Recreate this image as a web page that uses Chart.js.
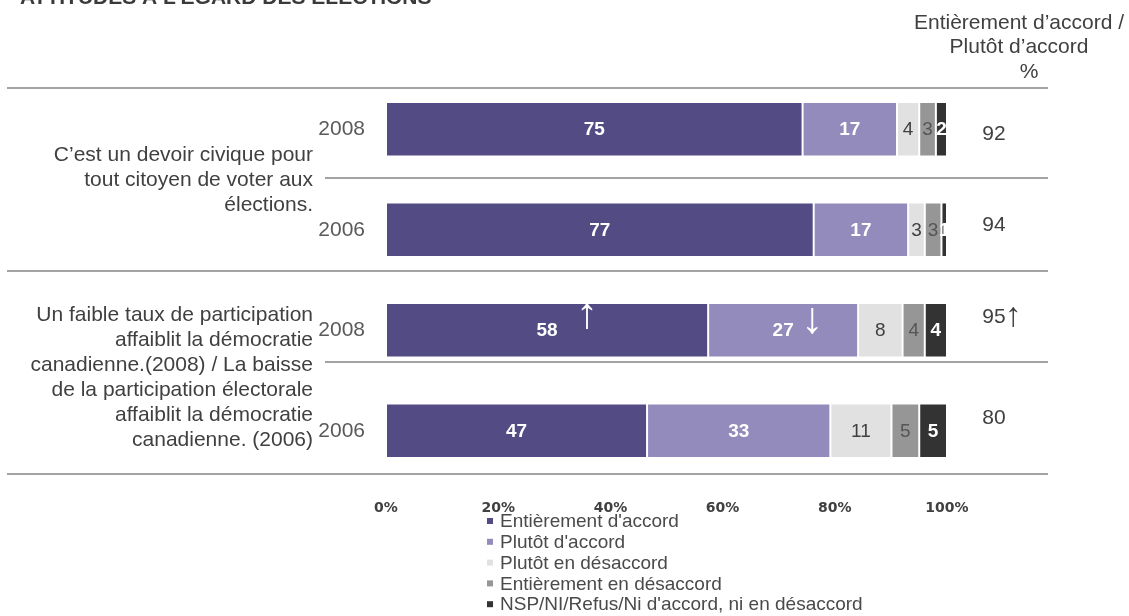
<!DOCTYPE html>
<html>
<head>
<meta charset="utf-8">
<script src="https://cdn.jsdelivr.net/npm/chart.js@4/dist/chart.umd.min.js"></script>
<style>
    html, body { margin: 0; padding: 0; background: #fff; }
    canvas { display: block; }
</style>
</head>
<body>
<canvas id="electionsChart" width="1129" height="616"></canvas>
<script>
(function () {
    "use strict";

    /* ================= DATA ================= */
    const years = ["2008", "2006", "2008", "2006"];

    const entierementAccord    = [75, 77, 58, 47];
    const plutotAccord         = [17, 17, 27, 33];
    const plutotDesaccord      = [4, 3, 8, 11];
    const entierementDesaccord = [3, 3, 4, 5];
    const nspRefus             = [2, 1, 4, 5];

    const seriesNames = [
        "Entièrement d'accord",
        "Plutôt d'accord",
        "Plutôt en désaccord",
        "Entièrement en désaccord",
        "NSP/NI/Refus/Ni d'accord, ni en désaccord"
    ];

    // combined "agree" column on the right
    const accordTotals = ["92", "94", "95", "80"];
    const totalArrows  = ["", "", "↑", ""];

    // significant change markers: row, series, arrow
    const changeMarks = [
        { row: 2, series: 0, arrow: "↑" },
        { row: 2, series: 1, arrow: "↓" }
    ];

    const statements = [
        ["C’est un devoir civique pour", "tout citoyen de voter aux", "élections."],
        ["Un faible taux de participation", "affaiblit la démocratie", "canadienne.(2008) / La baisse",
         "de la participation électorale", "affaiblit la démocratie", "canadienne. (2006)"]
    ];

    const headerLines = ["Entièrement d’accord /", "Plutôt d’accord", "%"];
    const title = "ATTITUDES À L’ÉGARD DES ÉLECTIONS";

    const xTickLabels = ["0%", "20%", "40%", "60%", "80%", "100%"];

    /* ================= STYLE ================= */
    const FONT = "'Liberation Sans', Arial, sans-serif";
    const TEXT = "#404040";

    const colors      = ["#524B84", "#928BBB", "#E1E1E1", "#969696", "#333333"];
    const labelColors = ["#ffffff", "#ffffff", "#404040", "#555555", "#ffffff"];
    const labelBold   = [true, true, false, false, true];

    const values = [entierementAccord, plutotAccord, plutotDesaccord, entierementDesaccord, nspRefus];

    const datasets = values.map(function (data, i) {
        return {
            label: seriesNames[i],
            data: data,
            backgroundColor: colors[i],
            borderColor: "#ffffff",
            borderWidth: 1,
            borderSkipped: false,
            categoryPercentage: 1,
            barPercentage: 0.54
        };
    });

    /* ================= DECORATIONS ================= */
    const decorations = {
        id: "decorations",

        afterDatasetsDraw(chart) {
            const ctx = chart.ctx;
            ctx.save();
            ctx.textAlign = "center";
            ctx.textBaseline = "middle";

            // values inside each segment
            chart.data.datasets.forEach(function (ds, i) {
                const meta = chart.getDatasetMeta(i);
                ctx.font = (labelBold[i] ? "bold " : "") + "19px " + FONT;
                ctx.fillStyle = labelColors[i];
                meta.data.forEach(function (bar, j) {
                    const cx = (bar.x + bar.base) / 2;
                    ctx.fillText(String(ds.data[j]), cx, bar.y + 1);
                });
            });

            // change arrows
            ctx.font = "44px " + FONT;
            ctx.fillStyle = "#ffffff";
            changeMarks.forEach(function (m) {
                const bar = chart.getDatasetMeta(m.series).data[m.row];
                const cx = (bar.x + bar.base) / 2;
                const up = m.arrow === "↑";
                ctx.fillText(m.arrow, cx + (up ? 40 : 29), bar.y + (up ? -14 : -9));
            });
            ctx.restore();
        },

        afterDraw(chart) {
            const ctx = chart.ctx;
            const area = chart.chartArea;
            const yScale = chart.scales.y;
            ctx.save();

            // separators between rows
            ctx.strokeStyle = "#a3a3a3";
            ctx.lineWidth = 2;
            [
                { at: -0.41, full: true },
                { at: 0.49, full: false },
                { at: 1.41, full: true },
                { at: 2.32, full: false },
                { at: 3.43, full: true }
            ].forEach(function (s) {
                const y = Math.round(yScale.getPixelForValue(s.at));
                ctx.beginPath();
                ctx.moveTo(s.full ? 7 : area.left - 61, y);
                ctx.lineTo(area.right + 101, y);
                ctx.stroke();
            });

            // statements, right aligned before the year labels
            ctx.font = "21px " + FONT;
            ctx.fillStyle = TEXT;
            ctx.textAlign = "right";
            ctx.textBaseline = "middle";
            const lineH = 25;
            const nudge = [1, -3];
            statements.forEach(function (lines, k) {
                const mid = yScale.getPixelForValue(2 * k + 0.5) + nudge[k];
                const top = mid - (lines.length - 1) * lineH / 2;
                lines.forEach(function (line, n) {
                    ctx.fillText(line, area.left - 73, top + n * lineH);
                });
            });

            // agree totals column
            const totalNudge = [5, -5, -13, -13];
            accordTotals.forEach(function (t, j) {
                const y = yScale.getPixelForValue(j) + totalNudge[j];
                const x = area.right + 47;
                ctx.font = "21px " + FONT;
                ctx.textAlign = "center";
                ctx.fillText(t, x, y);
                if (totalArrows[j]) {
                    const w = ctx.measureText(t).width;
                    ctx.font = "34px " + FONT;
                    ctx.textAlign = "left";
                    ctx.fillText(totalArrows[j], x + w / 2 - 1, y - 1);
                }
            });

            // column header
            ctx.font = "21px " + FONT;
            ctx.textAlign = "center";
            headerLines.forEach(function (line, n) {
                ctx.fillText(line, area.right + 72 + (n === 2 ? 10 : 0), 23 + n * 24.5);
            });

            // title, partly off the top edge
            ctx.font = "bold 21px " + FONT;
            ctx.fillStyle = "#3a3a3a";
            ctx.textAlign = "left";
            ctx.textBaseline = "alphabetic";
            ctx.fillText(title, 20, 4);

            // legend in one column
            ctx.font = "19px " + FONT;
            ctx.textBaseline = "middle";
            chart.data.datasets.forEach(function (ds, i) {
                const y = 521 + i * 20.8;
                ctx.fillStyle = ds.backgroundColor;
                ctx.fillRect(area.left + 101, y - 3, 6, 6);
                ctx.fillStyle = "#4a4a4a";
                ctx.fillText(ds.label, area.left + 114, y + 1);
            });

            ctx.restore();
        }
    };

    /* ================= CHART ================= */
    new Chart(document.getElementById("electionsChart"), {
        type: "bar",
        data: { labels: years, datasets: datasets },
        options: {
            indexAxis: "y",
            responsive: false,
            animation: false,
            layout: { padding: { top: 79, right: 182, bottom: 95, left: 0 } },
            plugins: {
                legend: { display: false },
                tooltip: { enabled: false }
            },
            scales: {
                x: {
                    stacked: true,
                    min: 0,
                    max: 101,
                    grid: { display: false, drawTicks: false },
                    border: { display: false },
                    // full bar width reads as 100%
                    afterBuildTicks: function (scale) {
                        scale.ticks = xTickLabels.map(function (_, i) {
                            return { value: i / (xTickLabels.length - 1) * scale.max };
                        });
                    },
                    afterFit: function (scale) { scale.height = 40; },
                    ticks: {
                        autoSkip: false,
                        maxRotation: 0,
                        padding: 19,
                        color: "#404040",
                        font: { family: "'DejaVu Sans', Verdana, sans-serif", weight: "bold", size: 14 },
                        callback: function (value, index) { return xTickLabels[index]; }
                    }
                },
                y: {
                    stacked: true,
                    grid: { display: false, drawTicks: false },
                    border: { display: false },
                    afterFit: function (scale) { scale.width = 386; },
                    ticks: {
                        padding: 21,
                        color: "#5a5a5a",
                        font: { family: FONT, size: 21 }
                    }
                }
            }
        },
        plugins: [decorations]
    });
})();
</script>
</body>
</html>
